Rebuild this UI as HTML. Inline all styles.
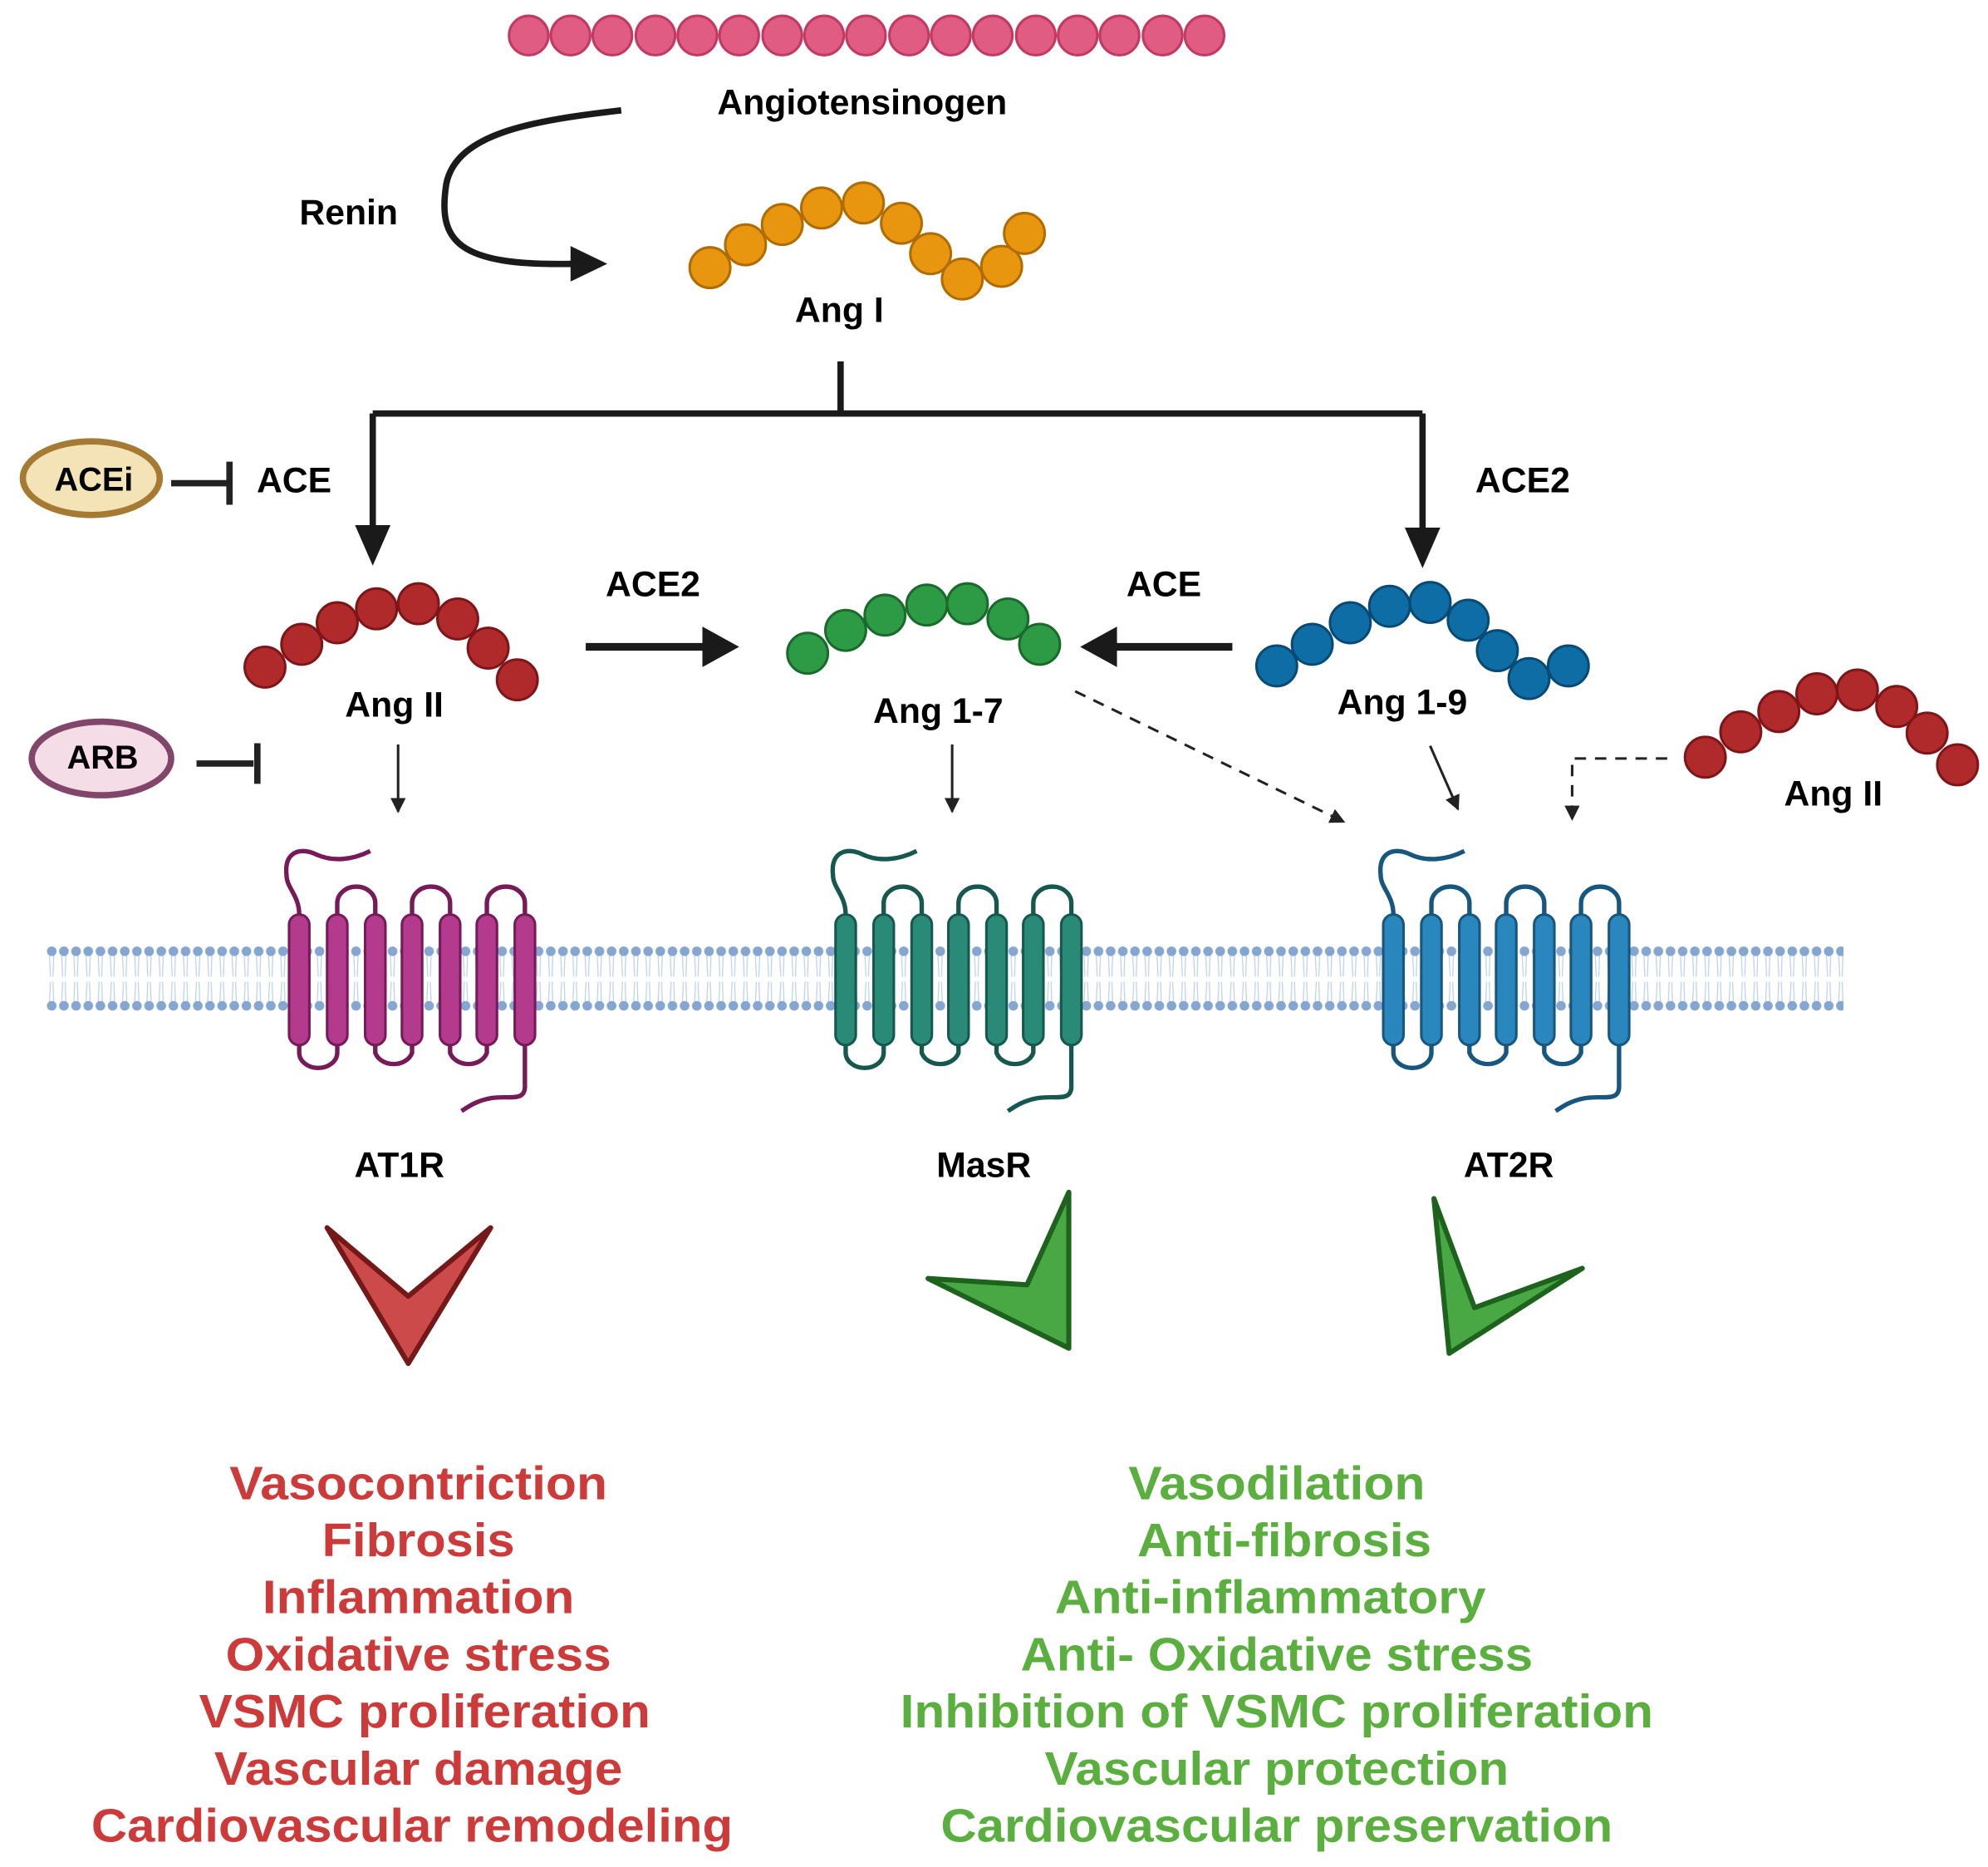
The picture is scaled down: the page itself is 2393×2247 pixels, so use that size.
<!DOCTYPE html>
<html><head><meta charset="utf-8"><style>
html,body{margin:0;padding:0;background:#fff;}
svg{display:block;}
text{font-family:"Liberation Sans",Arial,sans-serif;font-weight:bold;}
</style></head><body>
<svg width="2393" height="2247" viewBox="0 0 1568 1472" preserveAspectRatio="none" xmlns="http://www.w3.org/2000/svg">
<defs>
<pattern id="mem" x="36" y="0" width="9.6" height="1472" patternUnits="userSpaceOnUse">
<line x1="3" y1="752" x2="3.8" y2="770" stroke="#b9d0ee" stroke-width="0.8"/>
<line x1="6.4" y1="752" x2="5.8" y2="770" stroke="#b9d0ee" stroke-width="0.8"/>
<line x1="3" y1="791" x2="3.8" y2="774" stroke="#b9d0ee" stroke-width="0.8"/>
<line x1="6.4" y1="791" x2="5.8" y2="774" stroke="#b9d0ee" stroke-width="0.8"/>
<circle cx="4.8" cy="750" r="3.8" fill="#86a6d2"/>
<circle cx="4.8" cy="793" r="3.8" fill="#86a6d2"/>
</pattern>
<marker id="ah" viewBox="0 0 10 10" refX="9" refY="5" markerWidth="6" markerHeight="6" orient="auto"><path d="M0,0 L10,5 L0,10 z" fill="#222"/></marker>
<g id="rec">
<path d="M0 721 C0 706 -10 700 -10 690 C-12 672 0 668 12 673 C26 680 42 678 56 671" fill="none" stroke="currentColor" stroke-width="3.5"/>
<path d="M30 721 V712 A15 13 0 0 1 60 712 V721 M89 721 V712 A15 13 0 0 1 119 712 V721 M148 721 V712 A15 13 0 0 1 178 712 V721" fill="none" stroke="currentColor" stroke-width="3.5"/>
<path d="M0 824 V830 A15 12 0 0 0 30 830 V824 M60 824 V830 A15 12 0 0 0 89 830 V824 M119 824 V830 A15 12 0 0 0 148 830 V824" fill="none" stroke="currentColor" stroke-width="3.5"/>
<path d="M178 824 V855 C179 870 165 863 150 866 C140 868 134 872 128 876" fill="none" stroke="currentColor" stroke-width="3.5"/>
<rect x="-8" y="721" width="16" height="103" rx="8"/>
<rect x="22" y="721" width="16" height="103" rx="8"/>
<rect x="52" y="721" width="16" height="103" rx="8"/>
<rect x="81" y="721" width="16" height="103" rx="8"/>
<rect x="111" y="721" width="16" height="103" rx="8"/>
<rect x="140" y="721" width="16" height="103" rx="8"/>
<rect x="170" y="721" width="16" height="103" rx="8"/>
</g>
</defs>

<!-- Angiotensinogen -->
<g fill="#e05c82" stroke="#c23a64" stroke-width="2">
<circle cx="417" cy="28" r="15.5"/><circle cx="450" cy="28" r="15.5"/><circle cx="483" cy="28" r="15.5"/><circle cx="517" cy="28" r="15.5"/><circle cx="550" cy="28" r="15.5"/><circle cx="583" cy="28" r="15.5"/><circle cx="617" cy="28" r="15.5"/><circle cx="650" cy="28" r="15.5"/><circle cx="683" cy="28" r="15.5"/><circle cx="717" cy="28" r="15.5"/><circle cx="750" cy="28" r="15.5"/><circle cx="783" cy="28" r="15.5"/><circle cx="817" cy="28" r="15.5"/><circle cx="850" cy="28" r="15.5"/><circle cx="883" cy="28" r="15.5"/><circle cx="917" cy="28" r="15.5"/><circle cx="950" cy="28" r="15.5"/>
</g>
<text x="680" y="90" font-size="28" text-anchor="middle">Angiotensinogen</text>

<!-- Renin arrow -->
<path d="M490 87 C420 95 360 105 352 145 C345 190 360 210 452 208" fill="none" stroke="#1a1a1a" stroke-width="5"/>
<path d="M450 194 L479 208 L450 222 z" fill="#1a1a1a"/>
<text x="275" y="177" font-size="28" text-anchor="middle">Renin</text>

<!-- Ang I -->
<g fill="#e8950f" stroke="#b06c00" stroke-width="2">
<circle cx="560" cy="211" r="16"/><circle cx="588" cy="193" r="16"/><circle cx="617" cy="177" r="16"/><circle cx="648" cy="164" r="16"/><circle cx="681" cy="160" r="16"/><circle cx="711" cy="176" r="16"/><circle cx="734" cy="200" r="16"/><circle cx="759" cy="220" r="16"/><circle cx="790" cy="210" r="16"/><circle cx="808" cy="184" r="16"/>
</g>
<text x="662" y="254" font-size="28" text-anchor="middle">Ang I</text>

<!-- branching -->
<path d="M663 285 V326 M294 326 H1122 M294 326 V418 M1122 326 V420" fill="none" stroke="#1a1a1a" stroke-width="5"/>
<path d="M280 414 L308 414 L294 446 z" fill="#1a1a1a"/>
<path d="M1108 416 L1136 416 L1122 448 z" fill="#1a1a1a"/>

<!-- ACEi -->
<ellipse cx="72" cy="377" rx="54" ry="29" fill="#f4e3b6" stroke="#a57a32" stroke-width="5"/>
<text x="74" y="387" font-size="26" text-anchor="middle">ACEi</text>
<path d="M135 381 H180 M181 364 V398" stroke="#222" stroke-width="5" fill="none"/>
<text x="232" y="388" font-size="28" text-anchor="middle">ACE</text>
<text x="1201" y="388" font-size="28" text-anchor="middle">ACE2</text>

<!-- Ang II left -->
<g fill="#b02a2c" stroke="#7e1518" stroke-width="2">
<circle cx="209" cy="526" r="16"/><circle cx="238" cy="508" r="16"/><circle cx="266" cy="491" r="16"/><circle cx="297" cy="480" r="16"/><circle cx="330" cy="476" r="16"/><circle cx="361" cy="488" r="16"/><circle cx="385" cy="511" r="16"/><circle cx="408" cy="536" r="16"/>
</g>
<text x="311" y="565" font-size="28" text-anchor="middle">Ang II</text>

<!-- ARB -->
<ellipse cx="80" cy="598" rx="55" ry="29" fill="#f5dde7" stroke="#82466a" stroke-width="5"/>
<text x="81" y="606" font-size="26" text-anchor="middle">ARB</text>
<path d="M155 602 H200 M203 586 V618" stroke="#222" stroke-width="5" fill="none"/>

<!-- ACE2 arrow -->
<text x="515" y="470" font-size="28" text-anchor="middle">ACE2</text>
<path d="M462 510 H558" stroke="#1a1a1a" stroke-width="6"/>
<path d="M554 494 L583 510 L554 526 z" fill="#1a1a1a"/>

<!-- Ang 1-7 -->
<g fill="#2d9a45" stroke="#1a6a2c" stroke-width="2">
<circle cx="637" cy="515" r="16"/><circle cx="667" cy="497" r="16"/><circle cx="698" cy="485" r="16"/><circle cx="731" cy="477" r="16"/><circle cx="763" cy="476" r="16"/><circle cx="795" cy="488" r="16"/><circle cx="820" cy="508" r="16"/>
</g>
<text x="740" y="570" font-size="28" text-anchor="middle">Ang 1-7</text>

<!-- ACE arrow -->
<text x="918" y="470" font-size="28" text-anchor="middle">ACE</text>
<path d="M972 510 H876" stroke="#1a1a1a" stroke-width="6"/>
<path d="M881 494 L852 510 L881 526 z" fill="#1a1a1a"/>

<!-- Ang 1-9 -->
<g fill="#0e6da5" stroke="#094a74" stroke-width="2">
<circle cx="1007" cy="525" r="16"/><circle cx="1035" cy="508" r="16"/><circle cx="1065" cy="491" r="16"/><circle cx="1096" cy="478" r="16"/><circle cx="1128" cy="475" r="16"/><circle cx="1158" cy="489" r="16"/><circle cx="1181" cy="513" r="16"/><circle cx="1237" cy="525" r="16"/><circle cx="1206" cy="535" r="16"/>
</g>
<text x="1106" y="563" font-size="28" text-anchor="middle">Ang 1-9</text>

<!-- Ang II right -->
<g fill="#b02a2c" stroke="#7e1518" stroke-width="2">
<circle cx="1345" cy="597" r="16"/><circle cx="1373" cy="577" r="16"/><circle cx="1403" cy="561" r="16"/><circle cx="1433" cy="547" r="16"/><circle cx="1465" cy="544" r="16"/><circle cx="1496" cy="557" r="16"/><circle cx="1520" cy="578" r="16"/><circle cx="1544" cy="603" r="16"/>
</g>
<text x="1446" y="635" font-size="28" text-anchor="middle">Ang II</text>

<!-- thin arrows -->
<g stroke="#222" stroke-width="2" fill="none" marker-end="url(#ah)">
<line x1="314" y1="587" x2="314" y2="640"/>
<line x1="751" y1="587" x2="751" y2="640"/>
<line x1="1128" y1="588" x2="1150" y2="638"/>
<line x1="848" y1="545" x2="1060" y2="648" stroke-dasharray="9,7"/>
<path d="M1315 598 H1240 V646" stroke-dasharray="9,7"/>
</g>

<!-- membrane -->
<rect x="36" y="744" width="1418" height="56" fill="url(#mem)"/>

<!-- receptors -->
<use href="#rec" transform="translate(236,0)" fill="#b43a8e" stroke="#761a58" stroke-width="2" color="#761a58"/>
<use href="#rec" transform="translate(667,0)" fill="#2a8a78" stroke="#17584e" stroke-width="2" color="#17584e"/>
<use href="#rec" transform="translate(1099,0)" fill="#2a87be" stroke="#17567e" stroke-width="2" color="#17567e"/>

<text x="315" y="928" font-size="28" text-anchor="middle">AT1R</text>
<text x="776" y="928" font-size="28" text-anchor="middle">MasR</text>
<text x="1190" y="928" font-size="28" text-anchor="middle">AT2R</text>

<!-- chevrons -->
<polygon points="258,968 322,1022 387,968 322,1075" fill="#cc4a4a" stroke="#751818" stroke-width="4" stroke-linejoin="round"/>
<polygon points="843,940 843,1063 732,1008 810,1013" fill="#49a843" stroke="#1d631d" stroke-width="4" stroke-linejoin="round"/>
<polygon points="1131,945 1163,1031 1248,1000 1143,1067" fill="#49a843" stroke="#1d631d" stroke-width="4" stroke-linejoin="round"/>

<!-- effects -->
<g fill="#cc3a3a" font-size="37" text-anchor="middle">
<text x="330" y="1182" textLength="298" lengthAdjust="spacingAndGlyphs">Vasocontriction</text>
<text x="330" y="1227" textLength="152" lengthAdjust="spacingAndGlyphs">Fibrosis</text>
<text x="330" y="1272" textLength="246" lengthAdjust="spacingAndGlyphs">Inflammation</text>
<text x="330" y="1317" textLength="304" lengthAdjust="spacingAndGlyphs">Oxidative stress</text>
<text x="335" y="1362" textLength="356" lengthAdjust="spacingAndGlyphs">VSMC proliferation</text>
<text x="330" y="1407" textLength="322" lengthAdjust="spacingAndGlyphs">Vascular damage</text>
<text x="325" y="1452" textLength="506" lengthAdjust="spacingAndGlyphs">Cardiovascular remodeling</text>
</g>
<g fill="#5aaf3e" font-size="37" text-anchor="middle">
<text x="1007" y="1182" textLength="234" lengthAdjust="spacingAndGlyphs">Vasodilation</text>
<text x="1013" y="1227" textLength="232" lengthAdjust="spacingAndGlyphs">Anti-fibrosis</text>
<text x="1002" y="1272" textLength="340" lengthAdjust="spacingAndGlyphs">Anti-inflammatory</text>
<text x="1007" y="1317" textLength="404" lengthAdjust="spacingAndGlyphs">Anti- Oxidative stress</text>
<text x="1007" y="1362" textLength="594" lengthAdjust="spacingAndGlyphs">Inhibition of VSMC proliferation</text>
<text x="1007" y="1407" textLength="366" lengthAdjust="spacingAndGlyphs">Vascular protection</text>
<text x="1007" y="1452" textLength="530" lengthAdjust="spacingAndGlyphs">Cardiovascular preservation</text>
</g>
</svg>
</body></html>
